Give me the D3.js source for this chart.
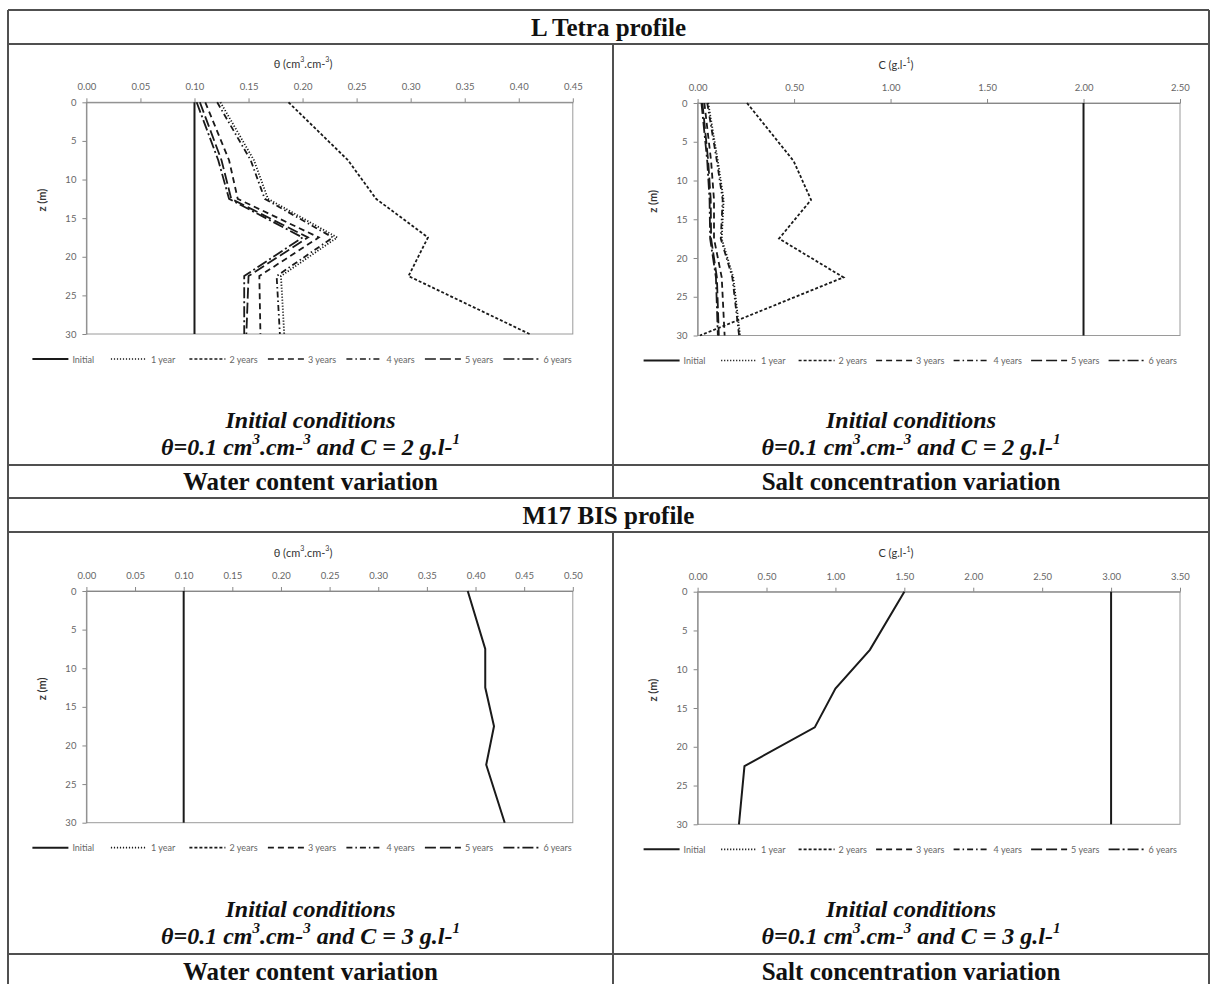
<!DOCTYPE html>
<html>
<head>
<meta charset="utf-8">
<script src="https://cdn.jsdelivr.net/npm/d3@7"></script>
<style>
  html, body { margin: 0; padding: 0; background: #fff; }
  svg { display: block; }
</style>
</head>
<body>
<div id="chart"></div>
<script>
// depth of the profile points (m)
const depths = [0, 7.5, 12.5, 17.5, 22.5, 30];
const seriesNames = ['Initial', '1 year', '2 years', '3 years', '4 years', '5 years', '6 years'];
const depthTicks = [0, 5, 10, 15, 20, 25, 30];

// L Tetra, water content (order: initial, 1..6 years)
const tetraTheta = [
  [0.10, 0.10, 0.10, 0.10, 0.10, 0.10],
  [0.124, 0.155, 0.168, 0.232, 0.180, 0.183],
  [0.187, 0.242, 0.268, 0.316, 0.298, 0.410],
  [0.110, 0.132, 0.140, 0.215, 0.160, 0.161],
  [0.121, 0.152, 0.165, 0.228, 0.176, 0.179],
  [0.105, 0.125, 0.134, 0.205, 0.150, 0.148],
  [0.102, 0.122, 0.132, 0.200, 0.146, 0.146]
];
const tetraThetaTicks = [0, 0.05, 0.10, 0.15, 0.20, 0.25, 0.30, 0.35, 0.40, 0.45];

// L Tetra, salt concentration
const tetraSalt = [
  [2.0, 2.0, 2.0, 2.0, 2.0, 2.0],
  [0.055, 0.105, 0.135, 0.125, 0.185, 0.220],
  [0.256, 0.498, 0.588, 0.422, 0.756, 0.012],
  [0.035, 0.070, 0.085, 0.085, 0.125, 0.140],
  [0.050, 0.100, 0.130, 0.120, 0.180, 0.215],
  [0.025, 0.055, 0.068, 0.070, 0.100, 0.110],
  [0.020, 0.050, 0.062, 0.065, 0.095, 0.105]
];
const tetraSaltTicks = [0, 0.5, 1.0, 1.5, 2.0, 2.5];

// M17 BIS: all yearly curves coincide
const m17ThetaInitial = [0.10, 0.10, 0.10, 0.10, 0.10, 0.10];
const m17Theta = [0.392, 0.410, 0.410, 0.419, 0.411, 0.430];
const m17ThetaTicks = [0, 0.05, 0.10, 0.15, 0.20, 0.25, 0.30, 0.35, 0.40, 0.45, 0.50];

const m17SaltInitial = [3.0, 3.0, 3.0, 3.0, 3.0, 3.0];
const m17Salt = [1.50, 1.25, 1.00, 0.85, 0.34, 0.30];
const m17SaltTicks = [0, 0.5, 1.0, 1.5, 2.0, 2.5, 3.0, 3.5];

// dash styles per series
const dashes = [null, '1.2,1.8', '3,2', '6,4', '6,3,1.5,3', '11,4', '11,3,2,3'];

const W = 1215, H = 984;
const svg = d3.select('#chart').append('svg').attr('width', W).attr('height', H);

const SERIF = 'Liberation Serif, Times New Roman, serif';
const SANS = 'Lato, Carlito, Calibri, sans-serif';

// ---- table frame ----
const tx0 = 8, tx1 = 1209, txm = 613;
const rows = [10, 44, 465, 498, 532, 954, 988];
const frame = svg.append('g').attr('stroke', '#505050').attr('stroke-width', 2).attr('fill', 'none');
frame.append('line').attr('x1', tx0).attr('x2', tx0).attr('y1', rows[0]).attr('y2', H + 5);
frame.append('line').attr('x1', tx1).attr('x2', tx1).attr('y1', rows[0]).attr('y2', H + 5);
rows.forEach(y => frame.append('line').attr('x1', tx0).attr('x2', tx1).attr('y1', y).attr('y2', y));
[[rows[1], rows[3]], [rows[4], rows[6]]].forEach(([a, b]) =>
  frame.append('line').attr('x1', txm).attr('x2', txm).attr('y1', a).attr('y2', b));

function label(x, y, text, size, italic) {
  return svg.append('text')
    .attr('x', x).attr('y', y)
    .attr('text-anchor', 'middle').attr('dominant-baseline', 'central')
    .attr('font-family', SERIF).attr('font-weight', 'bold')
    .attr('font-style', italic ? 'italic' : 'normal')
    .attr('font-size', size).attr('fill', '#111')
    .text(text);
}

label((tx0 + tx1) / 2, 27, 'L Tetra profile', 25);
label((tx0 + tx1) / 2, 515, 'M17 BIS profile', 25);
label((tx0 + txm) / 2, 481.5, 'Water content variation', 25);
label((txm + tx1) / 2, 481.5, 'Salt concentration variation', 25);
label((tx0 + txm) / 2, 971, 'Water content variation', 25);
label((txm + tx1) / 2, 971, 'Salt concentration variation', 25);

function conditions(cx, y, c) {
  label(cx, y, 'Initial conditions', 24, true);
  const t = svg.append('text')
    .attr('x', cx).attr('y', y + 27)
    .attr('text-anchor', 'middle').attr('dominant-baseline', 'central')
    .attr('font-family', SERIF).attr('font-weight', 'bold').attr('font-style', 'italic')
    .attr('font-size', 24).attr('fill', '#111');
  t.append('tspan').text('\u03B8=0.1 cm');
  t.append('tspan').attr('baseline-shift', 'super').attr('font-size', 15).text('3');
  t.append('tspan').text('.cm-');
  t.append('tspan').attr('baseline-shift', 'super').attr('font-size', 15).text('3');
  t.append('tspan').text(` and C = ${c} g.l-`);
  t.append('tspan').attr('baseline-shift', 'super').attr('font-size', 15).text('1');
}
conditions((tx0 + txm) / 2, 420, 2);
conditions((txm + tx1) / 2, 420, 2);
conditions((tx0 + txm) / 2, 909, 3);
conditions((txm + tx1) / 2, 909, 3);

// ---- profile charts ----
function drawProfile(opt) {
  const { left, right, top, bottom, ticks, title, titleX, series, legendStep } = opt;
  const xMax = ticks[ticks.length - 1];
  const x = d3.scaleLinear().domain([0, xMax]).range([left, right]);
  const y = d3.scaleLinear().domain([0, 30]).range([top, bottom]);
  const g = svg.append('g');

  g.append('rect')
    .attr('x', left).attr('y', top).attr('width', right - left).attr('height', bottom - top)
    .attr('fill', 'none').attr('stroke', '#9a9a9a').attr('stroke-width', 1);

  const xa = g.append('g').attr('transform', `translate(0,${top})`)
    .call(d3.axisTop(x).tickValues(ticks).tickFormat(d3.format('.2f')).tickSizeInner(4).tickSizeOuter(0).tickPadding(8));
  const ya = g.append('g').attr('transform', `translate(${left},0)`)
    .call(d3.axisLeft(y).tickValues(depthTicks).tickFormat(d3.format('d')).tickSizeInner(4).tickSizeOuter(0).tickPadding(6));
  [xa, ya].forEach(a => {
    a.select('.domain').attr('stroke', '#888');
    a.selectAll('.tick line').attr('stroke', '#888');
    a.selectAll('.tick text').attr('fill', '#666').attr('font-family', SANS).attr('font-size', 9.5);
  });

  // axis titles
  g.append('text')
    .attr('x', titleX).attr('y', top - 39)
    .attr('text-anchor', 'middle').attr('dominant-baseline', 'central')
    .attr('font-family', SANS).attr('font-size', 11).attr('fill', '#333')
    .html(title);
  g.append('text')
    .attr('transform', `translate(${left - 45},${(top + bottom) / 2 - 18}) rotate(-90)`)
    .attr('text-anchor', 'middle').attr('dominant-baseline', 'central')
    .attr('font-family', SANS).attr('font-weight', 'bold').attr('font-size', 11).attr('fill', '#333')
    .text('z (m)');

  const line = d3.line().x(d => x(d[0])).y(d => y(d[1]));
  series.forEach(s => {
    g.append('path')
      .datum(s.values.map((v, i) => [v, depths[i]]))
      .attr('d', line)
      .attr('fill', 'none')
      .attr('stroke', '#1a1a1a')
      .attr('stroke-width', s.width)
      .attr('stroke-dasharray', s.dash);
  });

  // legend
  const lg = g.append('g').attr('transform', `translate(${left - 54},${bottom + 25})`);
  seriesNames.forEach((name, i) => {
    const it = lg.append('g').attr('transform', `translate(${i * legendStep},0)`);
    it.append('line').attr('x1', 0).attr('x2', 36).attr('y1', 0).attr('y2', 0)
      .attr('stroke', '#1a1a1a').attr('stroke-width', i === 0 ? 2 : 1.7)
      .attr('stroke-dasharray', dashes[i]);
    it.append('text').attr('x', 40).attr('y', 0).attr('dominant-baseline', 'central')
      .attr('font-family', SANS).attr('font-size', 9).attr('fill', '#666').text(name);
  });
}

const thetaTitle = '\u03B8 (cm<tspan baseline-shift="super" font-size="7">3</tspan>.cm-<tspan baseline-shift="super" font-size="7">3</tspan>)';
const saltTitle = 'C (g.l-<tspan baseline-shift="super" font-size="7">1</tspan>)';

drawProfile({
  left: 86.4, right: 572.8, top: 102.3, bottom: 334, ticks: tetraThetaTicks, title: thetaTitle, titleX: 303,
  legendStep: 78.5,
  series: tetraTheta.map((v, i) => ({ values: v, dash: dashes[i], width: i === 0 ? 2 : 1.8 }))
});
drawProfile({
  left: 697.6, right: 1180, top: 103, bottom: 335.5, ticks: tetraSaltTicks, title: saltTitle, titleX: 896,
  legendStep: 77.5,
  series: tetraSalt.map((v, i) => ({ values: v, dash: dashes[i], width: i === 0 ? 2 : 1.8 }))
});
drawProfile({
  left: 86.4, right: 572.8, top: 591, bottom: 822.7, ticks: m17ThetaTicks, title: thetaTitle, titleX: 303,
  legendStep: 78.5,
  series: [{ values: m17ThetaInitial, dash: null, width: 2 }, { values: m17Theta, dash: null, width: 2 }]
});
drawProfile({
  left: 697.6, right: 1180, top: 591.7, bottom: 824.3, ticks: m17SaltTicks, title: saltTitle, titleX: 896,
  legendStep: 77.5,
  series: [{ values: m17SaltInitial, dash: null, width: 2 }, { values: m17Salt, dash: null, width: 2 }]
});
</script>
</body>
</html>
